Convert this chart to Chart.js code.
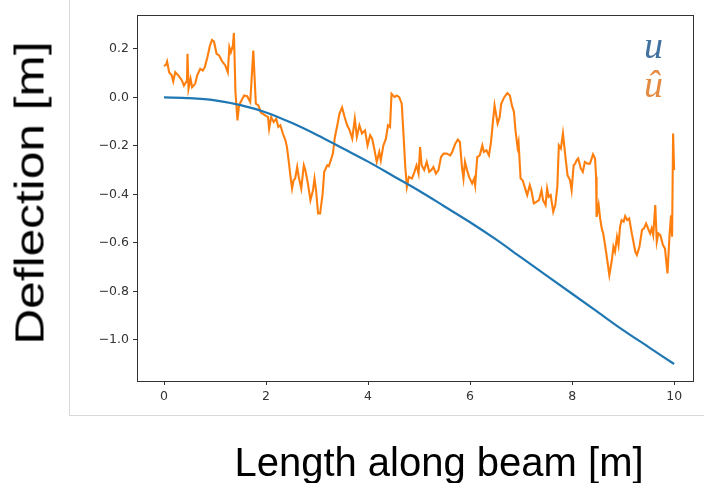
<!DOCTYPE html>
<html>
<head>
<meta charset="utf-8">
<script src="https://cdn.jsdelivr.net/npm/chart.js@4/dist/chart.umd.min.js"></script>
<style>
  body { margin: 0; background: #fff; }
  #wrap { position: relative; width: 704px; height: 483px; overflow: hidden; }
  #frame { position: absolute; left: 69px; top: 0; width: 635px; height: 415px;
           border-left: 1px solid #d9d9d9; border-bottom: 1px solid #d9d9d9; }
  canvas { position: absolute; left: 0; top: 0; }
  .axis-title { position: absolute; font-family: "Liberation Sans", Arial, sans-serif;
                font-size: 40px; color: #000; white-space: nowrap; }
  #ytitle { left: 30px; top: 193px; transform: translate(-50%, -50%) rotate(-90deg) scale(1.24, 1); }
  #xtitle { left: 439px; top: 462px; transform: translate(-50%, -50%); }
  .leg { position: absolute; font-family: "Liberation Serif", serif; font-style: italic;
         font-size: 38px; line-height: 1; }
  #legU { left: 644px; top: 26px; color: #44729f; }
  #legUhat { left: 644px; top: 65px; color: #e38a43; }
</style>
</head>
<body>
<div id="wrap">
  <div id="frame"></div>
  <canvas id="chart" width="704" height="483"></canvas>
  <div class="axis-title" id="ytitle">Deflection [m]</div>
  <div class="axis-title" id="xtitle">Length along beam [m]</div>
  <div class="leg" id="legU">u</div>
  <div class="leg" id="legUhat">û</div>
</div>
<script>
// true deflection u
const uX = [0, 0.5, 1, 1.5, 2, 2.5, 3, 3.5, 4, 4.5, 5, 5.5, 6, 6.5, 7, 7.5, 8, 8.5, 9, 9.5, 10];
const uY = [0, -0.003, -0.012, -0.032, -0.062, -0.105, -0.155, -0.21, -0.265, -0.325, -0.385,
            -0.45, -0.515, -0.585, -0.66, -0.735, -0.81, -0.885, -0.96, -1.03, -1.10];

// estimated deflection u-hat
const uHatX = [
  0.00,0.04,0.06,0.10,0.15,0.18,0.22,0.28,0.35,0.39,
  0.45,0.46,0.48,0.52,0.55,0.61,0.65,0.71,0.76,0.80,
  0.85,0.90,0.94,0.98,1.03,1.08,1.13,1.20,1.25,1.28,
  1.31,1.35,1.37,1.40,1.44,1.47,1.52,1.57,1.63,1.69,
  1.75,1.80,1.85,1.90,1.96,2.04,2.06,2.10,2.15,2.20,
  2.24,2.28,2.33,2.38,2.41,2.45,2.48,2.51,2.54,2.57,
  2.61,2.64,2.69,2.74,2.77,2.82,2.87,2.92,2.95,2.98,
  3.02,3.06,3.11,3.14,3.20,3.23,3.27,3.31,3.35,3.39,
  3.44,3.49,3.54,3.59,3.64,3.69,3.74,3.78,3.83,3.88,
  3.94,3.99,4.04,4.08,4.12,4.17,4.22,4.25,4.30,4.35,
  4.39,4.43,4.46,4.52,4.56,4.61,4.66,4.69,4.73,4.76,
  4.80,4.86,4.91,4.95,4.99,5.02,5.05,5.10,5.15,5.20,
  5.24,5.28,5.33,5.38,5.43,5.48,5.54,5.61,5.65,5.71,
  5.76,5.80,5.84,5.87,5.90,5.94,5.98,6.04,6.08,6.10,
  6.14,6.19,6.24,6.27,6.32,6.37,6.41,6.45,6.48,6.54,
  6.58,6.61,6.67,6.73,6.78,6.82,6.86,6.89,6.93,6.95,
  6.99,7.03,7.07,7.12,7.17,7.20,7.25,7.30,7.35,7.40,
  7.43,7.48,7.51,7.54,7.58,7.63,7.67,7.71,7.74,7.78,
  7.82,7.87,7.91,7.96,7.99,8.03,8.06,8.09,8.12,8.17,
  8.21,8.25,8.30,8.35,8.41,8.45,8.47,8.48,8.52,8.55,
  8.58,8.61,8.67,8.73,8.78,8.81,8.84,8.88,8.91,8.94,
  8.97,9.01,9.04,9.08,9.12,9.17,9.24,9.27,9.32,9.37,
  9.41,9.45,9.50,9.53,9.56,9.59,9.63,9.66,9.69,9.73,
  9.78,9.82,9.87,9.91,9.94,9.96,9.98,10.00
];
const uHatY = [
  0.129,0.135,0.148,0.104,0.091,0.066,0.104,0.091,0.070,0.049,
  0.070,0.180,0.036,0.077,0.042,0.056,0.091,0.118,0.111,0.125,
  0.166,0.214,0.237,0.230,0.180,0.173,0.152,0.132,0.104,0.207,
  0.186,0.214,0.266,0.022,-0.095,-0.033,-0.012,0.008,0.005,-0.019,
  0.193,-0.026,-0.033,-0.063,-0.071,-0.081,-0.129,-0.081,-0.102,-0.088,
  -0.122,-0.115,-0.149,-0.177,-0.205,-0.273,-0.328,-0.376,-0.342,-0.335,
  -0.287,-0.328,-0.376,-0.280,-0.300,-0.355,-0.424,-0.383,-0.335,-0.383,
  -0.479,-0.479,-0.396,-0.307,-0.280,-0.284,-0.259,-0.232,-0.163,-0.122,
  -0.067,-0.042,-0.081,-0.115,-0.136,-0.170,-0.088,-0.163,-0.115,-0.149,
  -0.136,-0.198,-0.156,-0.170,-0.211,-0.266,-0.225,-0.259,-0.198,-0.170,
  -0.115,-0.122,0.015,0.001,0.008,0.001,-0.026,-0.136,-0.287,-0.369,
  -0.328,-0.335,-0.307,-0.280,-0.314,-0.205,-0.280,-0.300,-0.266,-0.307,
  -0.300,-0.287,-0.314,-0.300,-0.246,-0.232,-0.232,-0.239,-0.225,-0.191,
  -0.174,-0.184,-0.287,-0.335,-0.266,-0.300,-0.328,-0.355,-0.335,-0.362,
  -0.246,-0.239,-0.198,-0.225,-0.218,-0.239,-0.184,-0.095,-0.033,-0.108,
  -0.081,-0.026,0.001,0.018,0.008,-0.033,-0.060,-0.136,-0.205,-0.184,
  -0.335,-0.342,-0.369,-0.403,-0.362,-0.383,-0.437,-0.431,-0.424,-0.383,
  -0.424,-0.444,-0.376,-0.410,-0.403,-0.472,-0.444,-0.369,-0.198,-0.211,
  -0.149,-0.246,-0.321,-0.342,-0.383,-0.280,-0.273,-0.259,-0.252,-0.293,
  -0.307,-0.266,-0.273,-0.273,-0.235,-0.252,-0.328,-0.493,-0.444,-0.499,
  -0.540,-0.561,-0.643,-0.733,-0.671,-0.616,-0.637,-0.575,-0.609,-0.534,
  -0.506,-0.513,-0.490,-0.506,-0.499,-0.561,-0.637,-0.650,-0.616,-0.547,
  -0.540,-0.520,-0.547,-0.561,-0.540,-0.568,-0.444,-0.595,-0.561,-0.568,
  -0.609,-0.623,-0.726,-0.568,-0.486,-0.575,-0.149,-0.300
];

const xTicks = [0, 2, 4, 6, 8, 10];
const yTicks = [0.2, 0.0, -0.2, -0.4, -0.6, -0.8, -1.0];

const toPoints = (xs, ys) => xs.map((x, i) => ({ x: x, y: ys[i] }));

// box around the plot area (matplotlib style spines)
const frameBox = {
  id: 'frameBox',
  afterDraw(chart) {
    const { ctx, chartArea: a } = chart;
    ctx.save();
    ctx.strokeStyle = '#333';
    ctx.lineWidth = 1;
    ctx.strokeRect(a.left + 0.5, a.top + 0.5, a.right - a.left, a.bottom - a.top);
    ctx.restore();
  }
};

const tickFont = { family: 'DejaVu Sans', size: 12.5 };

new Chart(document.getElementById('chart'), {
  type: 'line',
  data: {
    datasets: [
      {
        label: 'u',
        data: toPoints(uX, uY),
        borderColor: '#1f77b4',
        borderWidth: 2.2,
        pointRadius: 0,
        cubicInterpolationMode: 'monotone',
        fill: false
      },
      {
        label: 'u hat',
        data: toPoints(uHatX, uHatY),
        borderColor: '#ff7f0e',
        borderWidth: 2.1,
        pointRadius: 0,
        tension: 0,
        fill: false
      }
    ]
  },
  options: {
    responsive: false,
    animation: false,
    layout: { padding: { top: 15, right: 11, left: 0, bottom: 0 } },
    plugins: { legend: { display: false }, tooltip: { enabled: false } },
    scales: {
      x: {
        type: 'linear',
        min: -0.53,
        max: 10.37,
        afterFit: s => { s.height = 102; },
        afterBuildTicks: s => { s.ticks = xTicks.map(v => ({ value: v })); },
        grid: { drawOnChartArea: false, drawTicks: true, tickLength: 4, color: '#333' },
        border: { display: true, color: '#333' },
        ticks: { color: '#333', font: tickFont, padding: 4, maxRotation: 0,
                 callback: v => String(v) }
      },
      y: {
        min: -1.17,
        max: 0.34,
        afterFit: s => { s.width = 137; },
        afterBuildTicks: s => { s.ticks = yTicks.map(v => ({ value: v })); },
        grid: { drawOnChartArea: false, drawTicks: true, tickLength: 4, color: '#333' },
        border: { display: true, color: '#333' },
        ticks: { color: '#333', font: tickFont, padding: 4,
                 callback: v => (v < -1e-9 ? '\u2212' : '') + Math.abs(v).toFixed(1) }
      }
    }
  },
  plugins: [frameBox]
});
</script>
</body>
</html>
